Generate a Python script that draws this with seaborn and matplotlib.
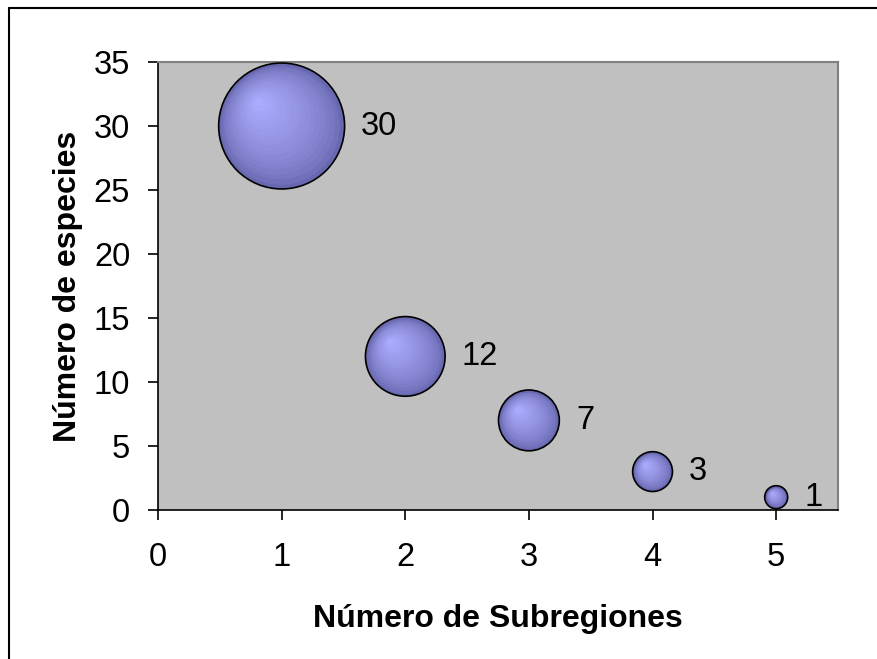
import numpy as np
import pandas as pd
import seaborn as sns
import matplotlib.pyplot as plt
from matplotlib.transforms import ScaledTranslation
from matplotlib.lines import Line2D

# Datos
subregiones = [1, 2, 3, 4, 5]
especies = [30, 12, 7, 3, 1]
etiquetas = ["30", "12", "7", "3", "1"]

df = pd.DataFrame({"subregiones": subregiones, "especies": especies})

sns.set_style("white")
plt.rcParams["font.family"] = ["Liberation Sans", "DejaVu Sans"]
plt.rcParams["text.color"] = "black"
plt.rcParams["axes.labelcolor"] = "black"
plt.rcParams["xtick.color"] = "black"
plt.rcParams["ytick.color"] = "black"

fig = plt.figure(figsize=(8.77, 6.59), dpi=100)
ax = fig.add_axes([158 / 877, 1 - 510 / 659, 680 / 877, 448 / 659])
ax.set_facecolor("#C0C0C0")

# Flaeche proportional zum Wert (wie Excel-Blasen)
k = 274.0
sns.scatterplot(
    data=df, x="subregiones", y="especies", size="especies",
    sizes=(min(especies) * k, max(especies) * k), size_norm=(min(especies), max(especies)),
    color="#6868B0", edgecolor="black", linewidth=1.2, legend=False, ax=ax, zorder=3
)

# Schattierung: konzentrische Kreise mit Versatz nach oben links
outer = np.array([0x68, 0x68, 0xB0]) / 255
inner = np.array([0xAC, 0xAC, 0xFF]) / 255
n_layers = 18
for x, y in zip(subregiones, especies):
    s0 = y * k
    r_pt = np.sqrt(s0) / 2
    for i in range(1, n_layers):
        f = 1 - i / n_layers
        t = i / (n_layers - 1)
        col = outer + (inner - outer) * t ** 0.7
        dx = -(1 - f) * r_pt * 0.4
        dy = (1 - f) * r_pt * 0.4
        tr = ax.transData + ScaledTranslation(dx / 72, dy / 72, fig.dpi_scale_trans)
        ax.scatter([x], [y], s=(s0 - 60) * f ** 2, color=col, linewidths=0,
                   transform=tr, zorder=4)

for x, y, lab in zip(subregiones, especies, etiquetas):
    r_pt = np.sqrt(y * k) / 2
    ax.annotate(lab, (x, y), xytext=(r_pt + 12, 0), textcoords="offset points",
                ha="left", va="center", fontsize=23.5, color="black")

ax.set_xlim(0, 5.5)
ax.set_ylim(0, 35)
ax.set_xticks(range(0, 6))
ax.set_yticks(range(0, 36, 5))
ax.tick_params(axis="both", direction="out", length=7, width=1.2, labelsize=23.5,
               color="black", labelcolor="black", bottom=True, left=True)
ax.tick_params(axis="y", pad=13)
ax.tick_params(axis="x", pad=16)

for side in ["top", "right"]:
    ax.spines[side].set_color("#808080")
    ax.spines[side].set_linewidth(1.5)
for side in ["left", "bottom"]:
    ax.spines[side].set_color("black")
    ax.spines[side].set_linewidth(1.2)

ax.set_xlabel("Número de Subregiones", fontsize=23, fontweight="bold", labelpad=22)
ax.set_ylabel("Número de especies", fontsize=23, fontweight="bold", labelpad=8)

# Rahmen (links und oben sichtbar)
fig.add_artist(Line2D([8.5 / 877, 8.5 / 877], [0, 1 - 8 / 659], color="black", lw=1.5))
fig.add_artist(Line2D([8.5 / 877, 1], [1 - 8 / 659, 1 - 8 / 659], color="black", lw=1.5))

fig.savefig("out.png", dpi=100)
